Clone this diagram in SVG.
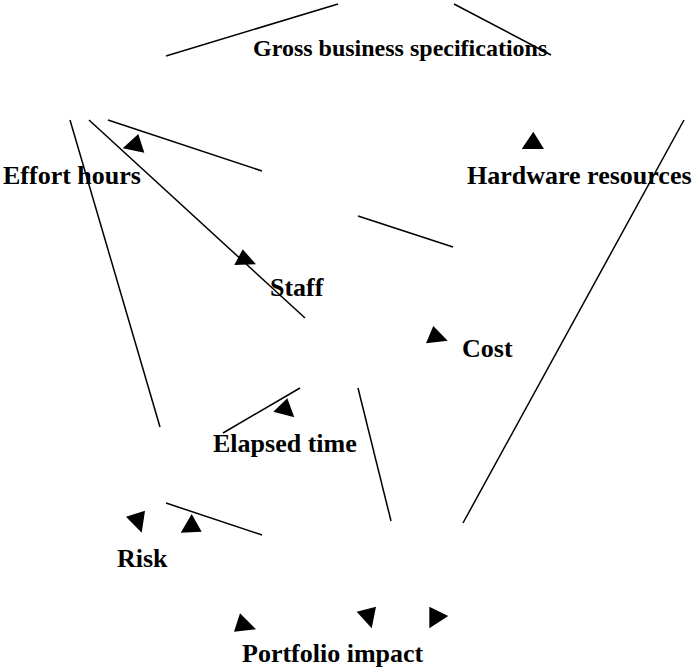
<svg xmlns="http://www.w3.org/2000/svg" width="698" height="669" viewBox="0 0 698 669">
<style>
.lbl{font-family:"Liberation Serif","Times New Roman",serif;font-weight:bold;font-size:26px;fill:#000}
.edge{stroke:#000;stroke-width:1.5;fill:none}
.head{fill:#000;stroke:none}
</style>
<rect width="698" height="669" fill="#fff"/>
<g id="connectors">
<line class="edge" x1="166" y1="56" x2="338" y2="4"/>
<line class="edge" x1="454" y1="4" x2="551" y2="55"/>
<line class="edge" x1="70" y1="120" x2="160" y2="427"/>
<line class="edge" x1="89" y1="120" x2="305" y2="318"/>
<line class="edge" x1="108" y1="120" x2="262" y2="171"/>
<line class="edge" x1="358" y1="216" x2="453" y2="247"/>
<line class="edge" x1="684" y1="120" x2="463" y2="523"/>
<line class="edge" x1="223" y1="433" x2="300" y2="388"/>
<line class="edge" x1="358" y1="388" x2="391" y2="521"/>
<line class="edge" x1="166" y1="503" x2="262" y2="535"/>
<polygon class="head" points="122.7,148.3 138.3,134 144.3,152.7"/>
<polygon class="head" points="234.3,265 242.7,249.3 256,264.3"/>
<polygon class="head" points="521.7,149 533.3,131.7 544,149"/>
<polygon class="head" points="426,343.3 433.3,326 447.7,340.7"/>
<polygon class="head" points="273.3,411.7 287.3,398.3 294.3,417.3"/>
<polygon class="head" points="126,516.7 145,510.7 141.7,532.7"/>
<polygon class="head" points="180.7,532.7 191.7,514 201.7,531.7"/>
<polygon class="head" points="234,631.7 240,613.3 256,629.3"/>
<polygon class="head" points="356.7,611.7 376,606.7 371.7,628.3"/>
<polygon class="head" points="429.3,606.7 448.3,616 429.3,628.3"/>
</g>
<g id="node-gross"><text class="lbl" x="253" y="56" style="font-size:24px">Gross business specifications</text></g>
<g id="node-effort"><text class="lbl" x="3" y="184">Effort hours</text></g>
<g id="node-hardware"><text class="lbl" x="467" y="184">Hardware resources</text></g>
<g id="node-staff"><text class="lbl" x="270" y="296">Staff</text></g>
<g id="node-cost"><text class="lbl" x="462" y="357">Cost</text></g>
<g id="node-elapsed"><text class="lbl" x="213" y="452">Elapsed time</text></g>
<g id="node-risk"><text class="lbl" x="117" y="567">Risk</text></g>
<g id="node-portfolio"><text class="lbl" x="242" y="662">Portfolio impact</text></g>
</svg>
